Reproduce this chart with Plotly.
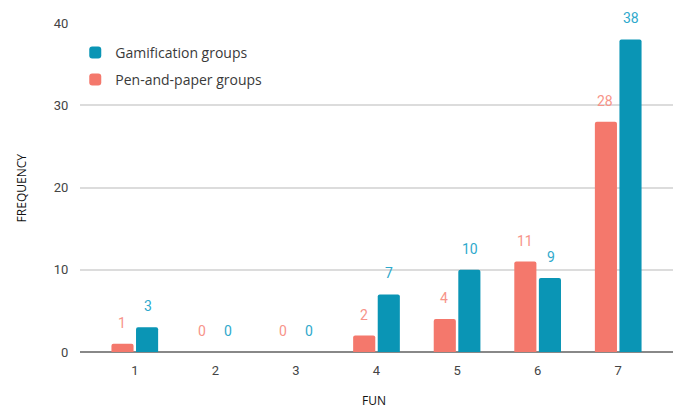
import plotly.graph_objects as go

categories = [1, 2, 3, 4, 5, 6, 7]
pen_paper = [1, 0, 0, 2, 4, 11, 28]
gamification = [3, 0, 0, 7, 10, 9, 38]
y_ticks = [0, 10, 20, 30, 40]

TEAL = "#0A95B5"
SALMON = "#F4786C"
TEAL_LBL = "#2EA9CC"
SALMON_LBL = "#F79489"

fig = go.Figure()
fig.add_trace(go.Bar(x=categories, y=pen_paper, name="Pen-and-paper groups", legendgroup="pen",
                     legendrank=2, marker=dict(color=SALMON, line=dict(width=0))))
fig.add_trace(go.Bar(x=categories, y=gamification, name="Gamification groups", legendgroup="gam",
                     legendrank=1, marker=dict(color=TEAL, line=dict(width=0))))

# data labels above the bars
off = 0.16
for xs, ys, sign, col in [(categories, pen_paper, -1, SALMON_LBL), (categories, gamification, 1, TEAL_LBL)]:
    for xv, yv in zip(xs, ys):
        fig.add_annotation(x=xv + sign * off, y=yv, text=str(yv), showarrow=False,
                           yshift=21, font=dict(family="Roboto", size=14, color=col),
                           xref="x", yref="y")

# axis titles
fig.add_annotation(text="FREQUENCY", xref="paper", yref="paper", x=-0.098, y=0.5,
                   xanchor="center", yanchor="middle", textangle=-90, showarrow=False,
                   font=dict(family="Open Sans", size=12, color="#111"))
fig.add_annotation(text="FUN", xref="paper", yref="paper", x=0.495, y=-0.146,
                   xanchor="center", yanchor="middle", showarrow=False,
                   font=dict(family="Open Sans", size=12, color="#111"))

fig.update_layout(
    width=682, height=412,
    margin=dict(l=80, r=9, t=23, b=60, autoexpand=False),
    paper_bgcolor="white", plot_bgcolor="white",
    barmode="group", bargap=0.39, bargroupgap=0.1, barcornerradius=2,
    showlegend=True,
    legend=dict(x=-0.008, y=0.958, xanchor="left", yanchor="top", traceorder="grouped",
                font=dict(family="Open Sans", size=14, color="#3a3a3a"),
                bgcolor="rgba(0,0,0,0)", itemsizing="constant", tracegroupgap=6),
    xaxis=dict(range=[0.32, 7.68], tickmode="array", tickvals=categories,
               ticktext=[str(c) for c in categories], showgrid=False, automargin=False,
               tickfont=dict(family="Roboto", size=13, color="#444"),
               showline=False, zeroline=False, ticks="outside", ticklen=6, tickcolor="white"),
    yaxis=dict(range=[0, 40], tickmode="array", tickvals=y_ticks, automargin=False,
               tickfont=dict(family="Roboto", size=13, color="#444"),
               gridcolor="#dcdcdc", gridwidth=1.5, zeroline=True, zerolinecolor="#888",
               zerolinewidth=1.5, ticks="outside", ticklen=8, tickcolor="white"),
)

fig.write_html("out.html", config={"displayModeBar": False},
               post_script="document.body.style.margin='0';document.body.style.overflow='hidden';")
